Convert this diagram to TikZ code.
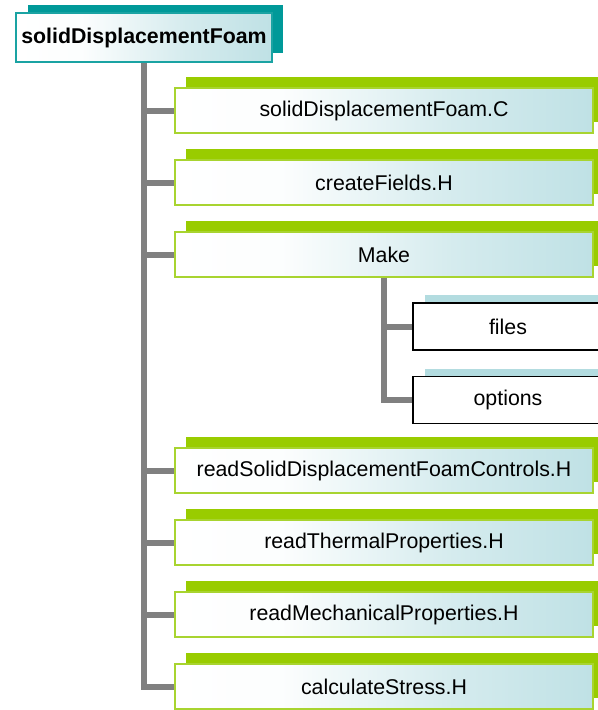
\documentclass[tikz,border=0pt]{standalone}
\usepackage{fontspec}
\setmainfont{Liberation Sans}
\definecolor{grn}{HTML}{99CC00}
\definecolor{grnb}{HTML}{A8D430}
\definecolor{tealc}{HTML}{009999}
\definecolor{tealb}{HTML}{1AA3A3}
\definecolor{lteal}{HTML}{BFE1E5}
\definecolor{strip}{HTML}{B3DCE0}
\definecolor{conncol}{HTML}{808080}
\pgfdeclarehorizontalshading{boxshade}{100bp}{color(0bp)=(white); color(25bp)=(white); color(38bp)=(white!95!lteal); color(58bp)=(lteal!65!white); color(75bp)=(lteal); color(100bp)=(lteal)}
\begin{document}
\begin{tikzpicture}[x=0.75pt,y=-0.75pt,
  every node/.style={font=\fontsize{16}{19}\selectfont, inner sep=0pt},
  kid/.style={draw=grnb, line width=1.2pt, shading=boxshade,
    minimum width=313.5pt, minimum height=33.75pt},
  kidback/.style={fill=grn, minimum width=313.5pt, minimum height=33.75pt},
  rootbox/.style={draw=tealb, line width=1.5pt, shading=boxshade,
    minimum width=192pt, minimum height=36.75pt, font=\fontsize{16}{19}\selectfont\bfseries},
  rootback/.style={fill=tealc, minimum width=191.25pt, minimum height=36pt},
  leaf/.style={draw=black, line width=1.1pt, fill=white,
    minimum width=142.5pt, minimum height=35.25pt},
  leafback/.style={fill=strip, minimum width=142.5pt, minimum height=35.25pt},
  conn/.style={draw=conncol, line width=4.5pt}]
\useasboundingbox (0,0) rectangle (598,710);
\clip (0,0) rectangle (598,710);

% root
\node[rootback] (rootbk) at (155.5,29) {};
\node[rootbox] (root) at (144,37.5) {solidDisplacementFoam};

% children backs
\node[kidback] (c1b) at (395,99.5) {};
\node[kidback] (c2b) at (395,171.5) {};
\node[kidback] (c3b) at (395,243.5) {};
\node[kidback] (c4b) at (395,459.5) {};
\node[kidback] (c5b) at (395,531.5) {};
\node[kidback] (c6b) at (395,603.5) {};
\node[kidback] (c7b) at (395,675.5) {};

% children
\node[kid] (c1) at (384,110.5) {solidDisplacementFoam.C};
\node[kid] (c2) at (384,182.5) {createFields.H};
\node[kid] (c3) at (384,254.5) {Make};
\node[kid] (c4) at (384,470.5) {readSolidDisplacementFoamControls.H};
\node[kid] (c5) at (384,542.5) {readThermalProperties.H};
\node[kid] (c6) at (384,614.5) {readMechanicalProperties.H};
\node[kid] (c7) at (384,686.5) {calculateStress.H};

% Make subtree
\node[leafback] (filesb) at (520,318.5) {};
\node[leafback] (optb) at (520,392) {};
\node[leaf] (files) at (508,326.5) {files};
\node[leaf] (opt) at (508,400) {options};

% connectors
\draw[conn] (root.south) |- (c7.west);
\foreach \n in {c1,c2,c3,c4,c5,c6}
  \draw[conn] (root.south |- \n.west) -- (\n.west);
\draw[conn] (c3.south) |- (opt.west);
\draw[conn] (c3.south |- files.west) -- (files.west);
\end{tikzpicture}
\end{document}
